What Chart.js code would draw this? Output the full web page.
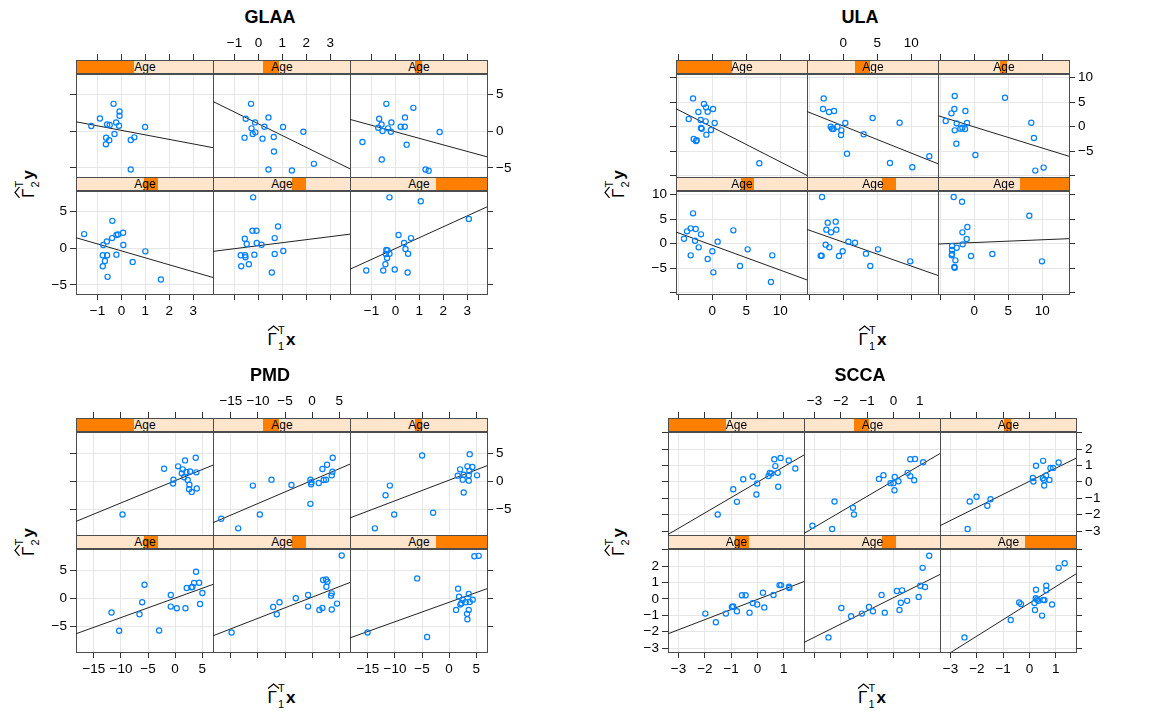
<!DOCTYPE html>
<html>
<head>
<meta charset="utf-8">
<script src="https://cdn.jsdelivr.net/npm/chart.js@4.4.1/dist/chart.umd.min.js"></script>
<style>
body{margin:0;background:#fff;width:1175px;height:711px;overflow:hidden;position:relative;font-family:'Liberation Sans',Arial,sans-serif;color:#000}
canvas{position:absolute}
.strip{position:absolute;box-sizing:border-box;height:14px;background:#ffe5cc;border:1px solid #4d4d4d;font-size:12px;line-height:12px;text-align:center;z-index:2;overflow:hidden}
.strip .sh{position:absolute;top:0;bottom:0;background:#ff7f00}
.strip span{position:relative}
.title{position:absolute;font-weight:bold;font-size:18px;transform:translate(-50%,-50%);white-space:nowrap}
.m{position:absolute;font-size:17px;line-height:1;white-space:nowrap;transform:translate(-50%,-50%);padding:6px 0}
.m.rot{transform:translate(-50%,-50%) rotate(-90deg)}
.G{position:relative;display:inline-block}
.hat{position:absolute;left:-1px;top:-6px}
.ss{position:relative;display:inline-block;width:9px;height:17px;vertical-align:baseline}
.ss .sp,.ss .sb{position:absolute;left:1px;font-size:11px;line-height:11px}
.ss .sp{top:-3px}
.ss .sb{top:13px}
</style>
</head>
<body>
<script>
// shingle intervals of Age (fraction of the strip), panel order: top row L->R, bottom row L->R
const ageShingles = [[0, 0.42], [0.36, 0.475], [0.47, 0.52], [0.49, 0.595], [0.572, 0.675], [0.625, 1]];

// ---- GLAA ----
const glaaPoints = [
  [[-1.26,0.68],[-0.90,1.71],[-0.33,3.69],[-0.08,2.66],[-0.08,2.07],[-0.22,1.17],[-0.60,0.90],[-0.49,0.81],[-0.10,0.72],[0.99,0.54],[-0.64,-0.90],[-0.51,-1.26],[-0.29,-0.41],[-0.65,-1.80],[0.39,-1.22],[0.54,-0.86],[0.39,-5.23]],
  [[-0.31,3.69],[-0.53,1.67],[-0.14,1.17],[0.42,1.85],[0.25,0.59],[1.03,0.54],[1.88,-0.09],[-0.29,0.36],[-0.24,-0.41],[-0.13,-0.18],[-0.58,-0.90],[0.17,-1.04],[0.64,-0.81],[0.65,-2.79],[2.32,-4.46],[0.42,-5.23],[1.40,-5.36]],
  [[-0.38,3.69],[-0.68,1.67],[-0.17,1.17],[0.40,1.85],[0.75,3.15],[-0.58,0.90],[-0.72,0.45],[-0.54,0],[-0.31,0.36],[-0.19,-0.09],[0.22,0.59],[0.39,0.59],[-1.38,-1.49],[0.47,-1.85],[1.85,-0.14],[-0.57,-3.87],[1.26,-5.23],[1.39,-5.41]],
  [[-1.56,1.89],[-0.76,0.41],[-0.61,0.90],[-0.39,1.35],[-0.38,3.69],[-0.21,1.76],[-0.14,1.85],[0.07,2.07],[0.08,0.41],[-0.78,-0.99],[-0.60,-0.99],[-0.69,-1.76],[-0.78,-2.48],[-0.21,-0.90],[-0.58,-3.92],[0.47,-1.89],[1.00,-0.45],[1.65,-4.28]],
  [[-0.22,6.89],[0.82,2.93],[-0.25,2.34],[-0.08,2.34],[-0.57,1.26],[-0.49,0.54],[-0.07,0.68],[0.13,0.45],[0.68,1.35],[-0.74,-0.99],[-0.56,-0.99],[-0.54,-1.26],[-0.17,-0.90],[-0.40,-2.21],[1.04,-0.41],[0.68,-0.81],[-0.72,-2.48],[0.56,-3.33]],
  [[-0.25,6.89],[1.06,6.35],[0.13,1.76],[0.36,0.68],[0.65,1.35],[3.07,3.96],[0.42,-0.14],[-0.38,-0.27],[-0.33,-0.32],[-0.25,-0.77],[-0.40,-0.81],[-0.35,-1.35],[0.53,-0.77],[-0.42,-2.21],[-1.22,-3.06],[-0.51,-3.06],[-0.03,-2.93],[0.51,-3.33]]
];
const glaaIntercept = [0.09, 0.976, -0.107, -0.39, 0.317, -0.072];
const glaaSlope = [-0.614, -1.597, -0.888, -0.944, 0.409, 1.478];
const glaaXRange = [-1.9, 3.83], glaaYRange = [-6.25, 7.75];
const glaaXTicks = [-1, 0, 1, 2, 3], glaaXLabels = [-1, 0, 1, 2, 3];
const glaaYTicks = [-5, 0, 5], glaaYLabels = [-5, 0, 5];

// ---- ULA ----
const ulaPoints = [
  [[-2.84,5.77],[-1.23,4.62],[-0.93,3.94],[0.10,3.60],[-2.06,2.99],[-0.69,3.05],[-3.48,1.56],[-1.72,1.36],[-0.98,1.09],[0.34,0.75],[-1.57,-0.41],[-1.67,-0.27],[-0.20,-0.68],[-0.88,-1.63],[-2.75,-2.51],[-2.30,-2.78],[-2.40,-2.92],[6.91,-7.47]],
  [[-2.89,5.77],[-2.99,3.60],[-2.11,2.99],[-1.37,3.19],[0.29,0.75],[4.31,1.77],[8.28,0.81],[-1.86,0],[-1.67,-0.41],[-1.47,-0.48],[-0.88,0],[-0.29,-0.75],[-0.34,-1.70],[2.99,-1.56],[0.54,-5.50],[6.86,-7.40],[10.15,-8.28],[12.65,-6.04]],
  [[-2.89,6.25],[-2.94,3.60],[-3.38,2.72],[-4.22,1.15],[-1.32,3.19],[-2.60,0.68],[-1.08,0.75],[-2.89,-0.75],[-2.06,-0.41],[-1.76,-0.20],[-1.37,-0.48],[-2.65,-3.46],[4.51,5.91],[0.15,-5.77],[8.38,0.81],[8.77,-2.31],[8.97,-8.96],[10.20,-8.35]],
  [[-2.84,6.19],[-3.19,3.13],[-2.45,2.99],[-3.73,2.52],[-4.17,1.02],[-1.67,1.90],[-2.55,0.61],[0.78,0.41],[-2.01,-0.75],[-3.19,-2.38],[0,-1.56],[-0.69,-3.13],[0.15,-5.85],[3.09,2.72],[5.20,-1.16],[4.07,-4.56],[8.82,-2.38],[8.63,-7.82]],
  [[-3.14,9.52],[-2.30,4.29],[-1.13,4.49],[-2.50,2.86],[-1.03,2.86],[-1.81,2.31],[-2.60,-0.20],[-2.06,-0.75],[-3.33,-2.45],[-3.19,-2.45],[-0.64,-2.52],[-0.10,-1.56],[0.74,0.41],[1.72,0.20],[5.10,-1.16],[3.33,-2.04],[3.97,-4.56],[9.85,-3.61]],
  [[-3.04,9.52],[-1.81,8.57],[-1.03,3.40],[-1.76,2.31],[-1.13,0.95],[-1.72,-0.14],[-2.60,-0.82],[-3.28,-0.48],[-3.28,-1.29],[-3.28,-2.11],[-3.33,-2.38],[-2.79,-3.40],[-2.94,-4.76],[-2.89,-4.90],[-0.49,-2.52],[2.65,-2.11],[8.09,5.71],[9.95,-3.61]]
];
const ulaIntercept = [-0.11, 0.137, -0.056, -0.33, 0.302, 0.232];
const ulaSlope = [-0.7065, -0.5535, -0.43, -0.507, -0.4875, 0.0566];
const ulaXRange = [-5.35, 13.93], ulaYRange = [-10.27, 10.75];
const ulaXTicks = [-5, 0, 5, 10], ulaXLabels = [0, 5, 10];
const ulaYTicks = [-10, -5, 0, 5, 10], ulaYLabels = [-5, 0, 5, 10];

// ---- PMD ----
const pmdPoints = [
  [[-2.03,2.24],[0.55,2.65],[1.84,3.71],[3.81,4.18],[1.41,2.12],[2.77,1.76],[3.93,1.59],[1.23,1.41],[2.09,1.65],[1.66,0.71],[2.34,0.24],[-0.31,0.29],[-0.37,-0.41],[2.64,-0.59],[2.58,-1.41],[3.07,-1.88],[4.00,-1.29],[-9.71,-5.88]],
  [[3.81,4.18],[2.77,2.94],[1.91,2.18],[3.75,1.71],[-7.50,0.29],[-3.81,-0.65],[-10.94,-0.76],[-0.31,0.29],[-0.12,-0.18],[-0.18,-0.53],[1.23,-0.29],[2.15,0.24],[2.58,0.29],[3.63,1.06],[-0.31,-4.0],[-9.65,-5.88],[-16.78,-6.65],[-13.64,-8.35]],
  [[-4.98,4.59],[3.81,4.82],[3.38,2.65],[4.30,2.53],[2.03,2.12],[3.75,1.82],[1.60,1.0],[2.70,1.18],[5.16,1.06],[2.52,0.29],[3.63,1.06],[3.63,0.12],[2.70,-2.0],[-10.94,-0.76],[-11.74,-2.47],[-10.14,-5.88],[-2.95,-5.59],[-13.71,-8.35]],
  [[3.87,4.71],[4.43,2.76],[3.50,2.71],[3.20,2.0],[3.01,1.94],[2.15,1.82],[5.04,0.94],[-5.65,2.41],[-0.80,0.59],[-6.08,-0.71],[4.61,-1.0],[-0.80,-1.47],[0.31,-1.76],[1.91,-1.76],[-6.58,-2.82],[-11.74,-2.53],[-10.33,-5.76],[-2.95,-5.71]],
  [[5.47,7.59],[2.03,3.24],[2.58,3.35],[2.83,2.94],[2.64,2.06],[3.63,0.88],[3.50,0.47],[-0.74,0.59],[-3.01,0],[-6.02,-0.71],[-7.19,-1.53],[-6.52,-2.82],[-0.74,-1.47],[1.91,-1.71],[1.35,-2.06],[3.63,-2.0],[4.61,-0.94],[-14.87,-6.06]],
  [[4.67,7.47],[5.47,7.53],[-5.90,3.53],[1.66,1.71],[1.84,0.29],[3.63,0.76],[4.36,-0.24],[2.52,-0.24],[3.07,-0.71],[3.81,-0.65],[2.27,-0.88],[2.09,-1.12],[1.29,-2.06],[3.32,-2.76],[3.63,-2.06],[3.38,-3.71],[-15.06,-6.06],[-4.06,-6.88]]
];
const pmdIntercept = [0.11, 0.17, 0.20, 0.04, 0.19, -0.71];
const pmdSlope = [0.395, 0.411, 0.366, 0.346, 0.374, 0.345];
const pmdXRange = [-18.3, 7.0], pmdYRange = [-9.53, 8.75];
const pmdXTicks = [-15, -10, -5, 0, 5], pmdXLabels = [-15, -10, -5, 0, 5];
const pmdYTicks = [-5, 0, 5], pmdYLabels = [-5, 0, 5];

// ---- SCCA ----
const sccaPoints = [
  [[0.88,1.46],[0.64,1.38],[1.19,1.30],[0.68,0.96],[1.44,0.81],[0.47,0.55],[0.53,0.51],[0.77,0.55],[0.42,0.35],[-0.18,0.33],[-0.54,0.16],[-0.01,-0.10],[0.79,-0.30],[-0.92,-0.45],[-0.04,-0.77],[-0.78,-1.22],[-1.51,-1.99]],
  [[0.64,1.38],[0.82,1.40],[1.13,1.20],[0.54,0.55],[0.64,0.35],[0.79,0.10],[-0.38,0.41],[-0.55,0.18],[0.05,0.30],[-0.11,-0.08],[0,-0.08],[0.19,0.04],[0.04,-0.51],[-2.24,-1.20],[-1.54,-1.58],[-1.50,-1.99],[-3.08,-2.68],[-2.33,-2.87]],
  [[0.52,1.28],[0.25,0.98],[1.11,1.18],[0.80,0.85],[0.90,0.85],[0.13,0.24],[0.15,0.02],[0.51,0.22],[0.63,0.39],[0.56,0.12],[0.76,0.12],[0.56,-0.22],[-2.27,-1.20],[-2.01,-0.91],[-1.48,-1.06],[-1.60,-1.46],[-2.35,-2.87]],
  [[0.84,0.84],[0.90,0.84],[1.20,0.74],[1.21,0.66],[0.21,0.38],[0.61,0.24],[-0.59,0.22],[-0.45,0.22],[-0.18,-0.26],[-0.01,-0.34],[0.26,-0.52],[-0.30,-0.84],[-0.92,-0.46],[-0.97,-0.50],[-0.78,-0.76],[-1.20,-0.90],[-1.98,-0.90],[-1.58,-1.43]],
  [[1.36,2.63],[1.11,1.89],[1.02,0.80],[1.20,0.72],[0.96,0.12],[0.13,0.48],[0.33,0.52],[-0.45,0.24],[0.52,-0.12],[0.28,-0.24],[0.23,-0.68],[-0.93,-0.50],[-0.78,-0.76],[-1.20,-0.90],[-1.61,-1.06],[-0.33,-0.84],[-1.98,-0.56],[-2.47,-2.35]],
  [[1.34,2.17],[1.11,1.89],[0.64,0.80],[0.25,0.56],[0.64,0.52],[0.24,0.04],[0.52,-0.06],[0.57,-0.08],[0.34,-0.12],[0.19,-0.26],[0.21,-0.68],[-0.39,-0.22],[-0.32,-0.32],[0.29,-0.04],[0.86,-0.34],[0.48,-1.02],[-0.71,-1.29],[-2.47,-2.35]]
];
const sccaIntercept = [-0.02, 0.06, 0.034, -0.035, 0.07, -0.26];
const sccaSlope = [0.938, 0.942, 0.796, 0.616, 0.802, 1.006];
const sccaXRange = [-3.4, 1.77], sccaYRange = [-3.24, 3.04];
const sccaXTicks = [-3, -2, -1, 0, 1], sccaXLabels = [-3, -2, -1, 0, 1];
const sccaYTicks = [-3, -2, -1, 0, 1, 2, 3], sccaYLabels = [-3, -2, -1, 0, 1, 2];

const FONT = "'Liberation Sans', Arial, sans-serif";
const M = 45, STRIP = 14, PH = 103;

const plots = [
  {title:'GLAA', pts:glaaPoints, a:glaaIntercept, b:glaaSlope, xr:glaaXRange, yr:glaaYRange, xt:glaaXTicks, xl:glaaXLabels, yt:glaaYTicks, yl:glaaYLabels, left:76, colW:137, top:60, titleX:270, yTitleX:27},
  {title:'ULA', pts:ulaPoints, a:ulaIntercept, b:ulaSlope, xr:ulaXRange, yr:ulaYRange, xt:ulaXTicks, xl:ulaXLabels, yt:ulaYTicks, yl:ulaYLabels, left:676, colW:131, top:60, titleX:860, yTitleX:617},
  {title:'PMD', pts:pmdPoints, a:pmdIntercept, b:pmdSlope, xr:pmdXRange, yr:pmdYRange, xt:pmdXTicks, xl:pmdXLabels, yt:pmdYTicks, yl:pmdYLabels, left:76, colW:137, top:418, titleX:270, yTitleX:27},
  {title:'SCCA', pts:sccaPoints, a:sccaIntercept, b:sccaSlope, xr:sccaXRange, yr:sccaYRange, xt:sccaXTicks, xl:sccaXLabels, yt:sccaYTicks, yl:sccaYLabels, left:668, colW:136, top:418, titleX:860, yTitleX:617}
];

function fmt(v){ return v < 0 ? '\u2212' + (-v) : String(v); }

function axis(pos, range, ticks, labels, showTicks, showLabels, primary, tickLen){
  const horiz = pos === 'top' || pos === 'bottom';
  return {
    type: 'linear', position: pos, min: range[0], max: range[1],
    afterBuildTicks: s => { s.ticks = ticks.map(v => ({value: v})); },
    afterFit: s => { if (horiz) s.height = M; else s.width = M; },
    grid: { drawOnChartArea: primary, color: '#e6e6e6', lineWidth: 1, tickLength: tickLen,
            tickColor: showTicks ? '#333' : 'rgba(0,0,0,0)', tickWidth: 1 },
    border: { display: true, color: '#4d4d4d', width: 1 },
    ticks: { color: showLabels ? '#000' : 'rgba(0,0,0,0)', font: {size: 13.5, family: FONT}, padding: 3,
             maxRotation: 0, autoSkip: false, callback: v => labels.includes(v) ? fmt(v) : '' }
  };
}

function addDiv(cls, html, css){
  const d = document.createElement('div');
  d.className = cls; d.innerHTML = html;
  Object.assign(d.style, css);
  document.body.appendChild(d);
  return d;
}

function mathLabel(sub, v){
  return '<span class="G">\u0393<svg class="hat" width="13" height="6" viewBox="0 0 13 6"><polyline points="1,5.5 6.5,1 12,5.5" fill="none" stroke="#000" stroke-width="1.2"/></svg></span>' +
         '<span class="ss"><span class="sp">T</span><span class="sb">' + sub + '</span></span><b>' + v + '</b>';
}

plots.forEach(p => {
  addDiv('title', p.title, {left: p.titleX + 'px', top: (p.top - 43) + 'px'});
  addDiv('m', mathLabel('1', 'x'), {left: (p.left + 1.5 * p.colW) + 'px', top: (p.top + 278) + 'px'});
  addDiv('m rot', mathLabel('2', 'y'), {left: p.yTitleX + 'px', top: (p.top + 124) + 'px'});

  for (let i = 0; i < 6; i++){
    const row = i < 3 ? 0 : 1, col = i % 3;
    const left = p.left + col * p.colW;
    const stripTop = p.top + row * (STRIP + PH);
    const top = stripTop + STRIP;

    // strip
    const sh = ageShingles[i];
    addDiv('strip', '<div class="sh" style="left:' + (sh[0] * 100) + '%;width:' + ((sh[1] - sh[0]) * 100) + '%"></div><span>Age</span>',
      {left: left + 'px', top: stripTop + 'px', width: (p.colW + 1) + 'px'});

    // panel chart
    const cv = document.createElement('canvas');
    cv.width = p.colW + 2 * M; cv.height = PH + 2 * M;
    cv.style.left = (left - M) + 'px'; cv.style.top = (top - M) + 'px';
    document.body.appendChild(cv);

    const a = p.a[i], b = p.b[i];
    const fit = p.xr.map(x => ({x: x, y: a + b * x}));
    const pts = p.pts[i].map(q => ({x: q[0], y: q[1]}));

    new Chart(cv, {
      type: 'scatter',
      data: { datasets: [
        { data: pts, borderColor: '#0080ff', backgroundColor: 'rgba(0,0,0,0)', pointRadius: 2.6, pointBorderWidth: 1.2, pointHoverRadius: 2.6 },
        { data: fit, showLine: true, borderColor: '#222', borderWidth: 1, pointRadius: 0, pointHoverRadius: 0 }
      ]},
      options: {
        responsive: false, animation: false, events: [],
        layout: { padding: 0 },
        plugins: { legend: {display: false}, tooltip: {enabled: false} },
        scales: {
          x: axis('bottom', p.xr, p.xt, p.xl, row === 1, row === 1 && col !== 1, true, 6),
          x2: axis('top', p.xr, p.xt, p.xl, row === 0, row === 0 && col === 1, false, STRIP + 6),
          y: axis('left', p.yr, p.yt, p.yl, col === 0, col === 0 && row === 1, true, 6),
          y2: axis('right', p.yr, p.yt, p.yl, col === 2, col === 2 && row === 0, false, 6)
        }
      }
    });
  }
});
</script>
</body>
</html>
